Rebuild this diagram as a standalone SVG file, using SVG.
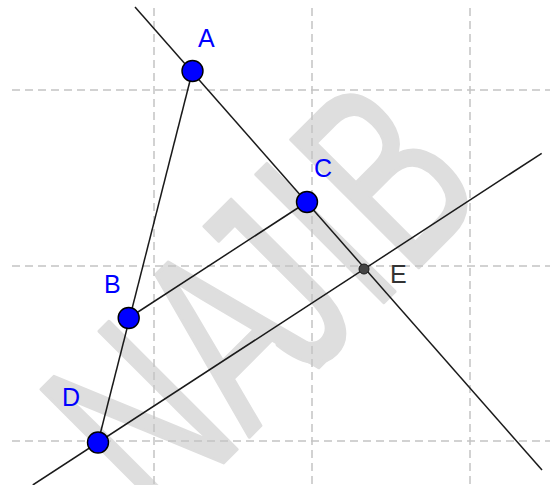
<svg xmlns="http://www.w3.org/2000/svg" width="550" height="485" viewBox="0 0 550 485">
<style>
.wm{font-family:"Liberation Sans",Arial,sans-serif;font-size:262px;fill:#dedede;stroke:#dedede;stroke-width:4;stroke-linejoin:round;stroke-linecap:round}
.grid line{stroke:#c4c4c4;stroke-width:1.5;stroke-dasharray:8 5}
.conn line{stroke:#1a1a1a;stroke-width:1.5}
.pt{fill:#0000ff;stroke:#000;stroke-width:1.4}
.lbl{font-family:"Liberation Sans",Arial,sans-serif;font-size:25px;fill:#0000ff}
</style>
<rect width="550" height="485" fill="#ffffff"/>
<g id="watermark" transform="rotate(-45)">
<text class="wm" transform="scale(0.66,1)" x="-395 -202 -77 62.6 140" y="485">NAJIB</text>
</g>
<g class="grid">
<line x1="154" y1="8" x2="154" y2="485"/>
<line x1="312" y1="8" x2="312" y2="485"/>
<line x1="470" y1="8" x2="470" y2="485"/>
<line x1="12" y1="90" x2="550" y2="90"/>
<line x1="12" y1="266" x2="550" y2="266"/>
<line x1="12" y1="441" x2="550" y2="441"/>
</g>
<g id="connectors" class="conn">
<line x1="135" y1="7" x2="542" y2="470"/>
<line x1="32.8" y1="485" x2="541.7" y2="153.3"/>
<line x1="192.5" y1="71" x2="98" y2="442.5"/>
<line x1="128.7" y1="318" x2="307" y2="202"/>
</g>
<g id="A"><circle class="pt" cx="192.5" cy="71" r="10.5"/><text class="lbl" x="198" y="47">A</text></g>
<g id="C"><circle class="pt" cx="307" cy="202" r="10.5"/><text class="lbl" x="314" y="177">C</text></g>
<g id="B"><circle class="pt" cx="128.7" cy="318" r="10.5"/><text class="lbl" x="104" y="293">B</text></g>
<g id="D"><circle class="pt" cx="98" cy="442.5" r="10.5"/><text class="lbl" x="62" y="406">D</text></g>
<g id="E"><circle cx="364" cy="269" r="5" fill="#444" stroke="#1a1a1a" stroke-width="1"/><text class="lbl" x="390" y="283" style="fill:#333">E</text></g>
</svg>
